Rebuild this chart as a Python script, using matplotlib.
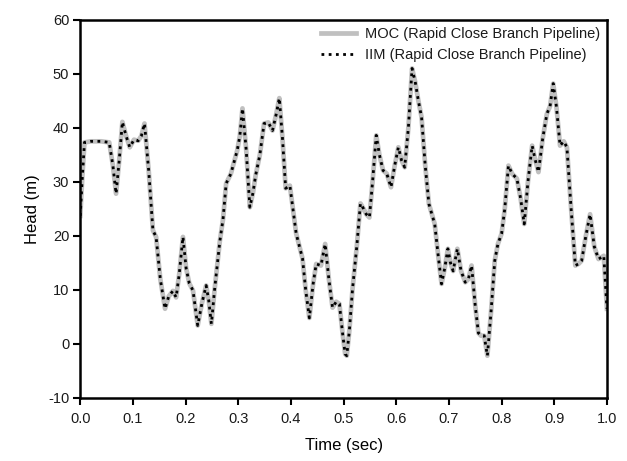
import numpy as np
import matplotlib.pyplot as plt

plt.rcParams['font.family'] = ['Liberation Sans', 'DejaVu Sans']
plt.rcParams['text.color'] = '#1a1a1a'
plt.rcParams['axes.unicode_minus'] = False

# pressure head at the valve, rapid closure of a branched pipeline
time = [0.000, 0.004, 0.008, 0.020, 0.040, 0.055, 0.062, 0.068, 0.074, 0.080,
        0.087, 0.094, 0.102, 0.110, 0.116, 0.122, 0.130, 0.138, 0.144, 0.152,
        0.161, 0.168, 0.176, 0.182, 0.188, 0.195, 0.201, 0.207, 0.214, 0.223,
        0.231, 0.239, 0.244, 0.249, 0.255, 0.265, 0.271, 0.277, 0.286, 0.298,
        0.303, 0.308, 0.315, 0.322, 0.328, 0.333, 0.341, 0.349, 0.357, 0.365,
        0.372, 0.378, 0.384, 0.390, 0.398, 0.410, 0.422, 0.428, 0.435, 0.442,
        0.448, 0.457, 0.465, 0.472, 0.479, 0.486, 0.492, 0.498, 0.503, 0.506,
        0.511, 0.517, 0.525, 0.532, 0.538, 0.543, 0.549, 0.555, 0.562, 0.568,
        0.575, 0.582, 0.590, 0.597, 0.604, 0.610, 0.616, 0.623, 0.630, 0.636,
        0.642, 0.648, 0.655, 0.662, 0.673, 0.680, 0.686, 0.692, 0.698, 0.703,
        0.708, 0.712, 0.716, 0.723, 0.731, 0.737, 0.743, 0.750, 0.756, 0.761,
        0.767, 0.773, 0.780, 0.787, 0.793, 0.800, 0.806, 0.813, 0.820, 0.829,
        0.836, 0.843, 0.850, 0.858, 0.864, 0.870, 0.878, 0.886, 0.892, 0.898,
        0.904, 0.911, 0.918, 0.924, 0.932, 0.940, 0.946, 0.952, 0.960, 0.968,
        0.976, 0.984, 0.994, 1.000]

head_moc = [23.7, 31.0, 37.3, 37.5, 37.5, 37.3, 33.0, 27.8, 34.0, 41.1,
            38.5, 36.4, 37.8, 37.6, 38.5, 40.8, 32.0, 21.0, 19.8, 12.0,
            6.5, 8.8, 9.8, 8.6, 13.0, 19.8, 14.0, 11.2, 9.9, 3.4,
            7.5, 10.8, 8.0, 3.7, 10.0, 19.0, 23.0, 29.7, 31.5, 35.8,
            38.5, 43.6, 36.0, 25.3, 28.0, 31.2, 35.0, 40.8, 41.0, 39.5,
            42.5, 45.5, 38.0, 28.8, 29.3, 20.4, 15.8, 10.0, 4.8, 11.0,
            14.8, 14.5, 18.5, 12.0, 6.7, 7.8, 7.4, 2.0, -1.9, -2.2,
            2.5, 10.2, 18.0, 26.0, 25.0, 24.0, 23.4, 30.0, 38.6, 35.0,
            32.1, 31.5, 29.0, 33.0, 36.4, 34.0, 32.7, 40.0, 51.0, 48.5,
            45.0, 42.0, 33.0, 25.9, 22.2, 16.0, 11.1, 14.0, 17.6, 15.0,
            13.5, 15.5, 17.6, 13.5, 11.4, 12.0, 14.5, 7.0, 2.0, 1.5,
            1.5, -2.2, 6.0, 15.4, 18.5, 20.4, 25.0, 33.0, 31.5, 30.6,
            27.0, 22.2, 30.0, 36.7, 34.0, 31.8, 38.0, 42.6, 44.0, 48.2,
            44.0, 36.7, 37.5, 36.4, 25.0, 14.5, 14.8, 15.4, 20.0, 24.0,
            18.0, 15.7, 16.3, 6.5]

head_iim = list(head_moc)

fig, ax = plt.subplots(figsize=(6.27, 4.61), dpi=100)
fig.subplots_adjust(left=0.128, right=0.968, top=0.957, bottom=0.137)

ax.plot(time, head_moc, color='#c0c0c0', lw=3.4, solid_joinstyle='round',
        label='MOC (Rapid Close Branch Pipeline)')
ax.plot(time, head_iim, color='black', lw=2.0, ls=(0, (1, 1.6)),
        label='IIM (Rapid Close Branch Pipeline)')

ax.set_xlim(0, 1.0)
ax.set_ylim(-10, 60)
ax.set_xticks(np.arange(0, 1.01, 0.1))
ax.set_xticklabels([f'{v:.1f}' for v in np.arange(0, 1.01, 0.1)])
ax.set_yticks(np.arange(-10, 61, 10))

for s in ax.spines.values():
    s.set_linewidth(1.8)
ax.tick_params(direction='out', length=5, width=1.5, labelsize=10.5,
               colors='black', labelcolor='#1a1a1a')
ax.tick_params(axis='x', pad=5)
ax.tick_params(axis='y', pad=3)

ax.set_xlabel('Time (sec)', fontsize=12, labelpad=9)
ax.set_ylabel('Head (m)', fontsize=12, labelpad=6)

ax.legend(loc='upper right', frameon=False, fontsize=10.5, handlelength=2.4,
          handletextpad=0.55, borderaxespad=0.1, labelspacing=0.45,
          bbox_to_anchor=(1.0, 1.0))

fig.savefig('out.png', dpi=100)
